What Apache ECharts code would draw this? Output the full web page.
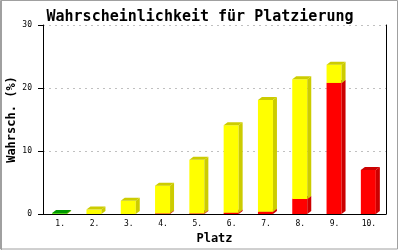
<!DOCTYPE html>
<html><head><meta charset="utf-8">
<script src="https://cdn.jsdelivr.net/npm/echarts@6/dist/echarts.min.js"></script>
<style>html,body{margin:0;padding:0;background:#fff}#c{width:400px;height:250px}</style>
</head><body><div id="c"></div>
<script>
const categories = ['1.','2.','3.','4.','5.','6.','7.','8.','9.','10.'];
const redValues    = [0, 0, 0, 0.1, 0.1, 0.2, 0.35, 2.4, 20.8, 7.0];
const yellowValues = [0.06, 0.7, 2.1, 4.4, 8.5, 13.9, 17.75, 19.0, 2.9, 0];
const greenValues  = [0.1, 0, 0, 0, 0, 0, 0, 0, 0, 0];
const yTicks = [0, 10, 20, 30];

const colors = [
  {front:'#ff0000', dark:'#cc0000'},
  {front:'#ffff00', dark:'#cccc00'},
  {front:'#00cc00', dark:'#009900'}
];
const mono = '"DejaVu Sans Mono", "Liberation Mono", monospace';
const chart = echarts.init(document.getElementById('c'), null, {renderer:'canvas'});
const data = categories.map((c,i)=>[i, redValues[i], yellowValues[i], greenValues[i]]);

function renderItem(params, api){
  const i = api.value(0);
  const children = [];
  let acc = 0;
  for (let k=0;k<3;k++){
    const v = api.value(k+1);
    if (!v) continue;
    const b = api.coord([i, acc]);
    const t = api.coord([i, acc+v]);
    acc += v;
    const cx = b[0], yb = b[1], yt = t[1];
    const x0 = cx - 8, x1 = cx + 7, d = 4, e = 3;
    const col = colors[k];
    children.push({type:'rect', shape:{x:x0, y:yt, width:x1-x0, height:yb-yt}, style:{fill:col.front}});
    children.push({type:'polygon', shape:{points:[[x1,yb],[x1+d,yb-e],[x1+d,yt-e],[x1,yt]]}, style:{fill:col.dark}});
    children.push({type:'polygon', shape:{points:[[x0,yt],[x1,yt],[x1+d,yt-e],[x0+d,yt-e]]}, style:{fill:col.dark}});
  }
  return {type:'group', children};
}

chart.setOption({
  animation:false,
  backgroundColor:'#ffffff',
  title:{text:'Wahrscheinlichkeit für Platzierung', left:'center', top:5,
    textStyle:{fontFamily:mono, fontSize:15, fontWeight:'bold', color:'#000'}},
  grid:{left:43, right:14, top:25, bottom:36, containLabel:false, outerBoundsMode:'none'},
  xAxis:{type:'category', data:categories, boundaryGap:true,
    name:'Platz', nameLocation:'middle', nameGap:19, nameMoveOverlap:false,
    nameTextStyle:{fontFamily:mono, fontSize:12, fontWeight:'bold', color:'#000'},
    axisLine:{lineStyle:{color:'#000', width:1}}, axisTick:{show:false},
    axisLabel:{fontFamily:mono, fontSize:8, color:'#000', margin:6},
    splitLine:{show:false}},
  yAxis:[{type:'value', min:0, max:30, interval:10,
    name:'Wahrsch. (%)', nameLocation:'middle', nameGap:25, nameRotate:90, nameMoveOverlap:false,
    nameTextStyle:{fontFamily:mono, fontSize:12, fontWeight:'bold', color:'#000'},
    axisLine:{show:true, lineStyle:{color:'#000', width:1}},
    axisTick:{show:true, length:5, lineStyle:{color:'#000'}},
    axisLabel:{fontFamily:mono, fontSize:8, color:'#000', margin:11,
      formatter:v=> yTicks.includes(v) ? String(v) : ''},
    splitLine:{show:true, lineStyle:{color:'#c0c0c0', type:[2,4], width:1}}},
   {type:'value', min:0, max:30, interval:10, position:'right',
    axisLine:{show:true, lineStyle:{color:'#000'}}, axisTick:{show:false},
    axisLabel:{show:false}, splitLine:{show:false}}],
  graphic:[
    {type:'rect', shape:{x:0.5, y:0.5, width:397, height:248.5}, style:{fill:'none', stroke:'#a0a0a0', lineWidth:1}, z:100},
    {type:'line', shape:{x1:1.5, y1:0, x2:1.5, y2:250}, style:{stroke:'#a0a0a0', lineWidth:1}, z:100}
  ],
  series:[{type:'custom', renderItem, data, encode:{x:0, y:1}, clip:false}]
});
</script></body></html>
